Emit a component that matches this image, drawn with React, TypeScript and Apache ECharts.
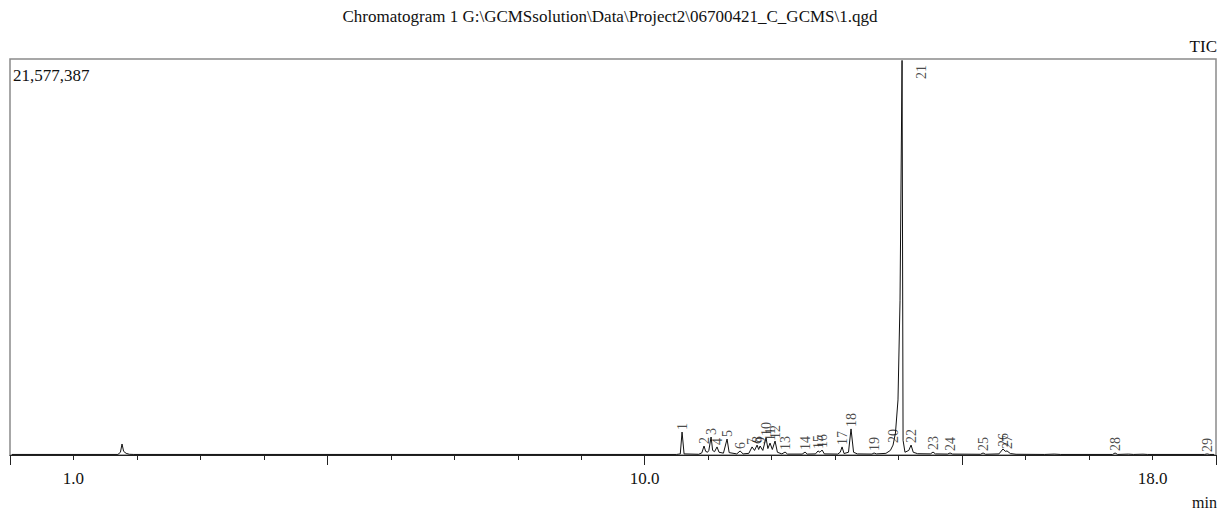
import React, { useEffect, useRef } from "react";
import * as echarts from "echarts";

const titleText = "Chromatogram 1 G:\\GCMSsolution\\Data\\Project2\\06700421_C_GCMS\\1.qgd";
const maxIntensity = 21577387;
const labeledTicks = [1, 10, 18];

// TIC trace: [retention time (min), intensity]
const trace: [number, number][] = [
  [0.03, 30000], [1.70, 30000], [1.74, 150000], [1.765, 600000], [1.79, 200000],
  [1.83, 90000], [1.88, 40000], [1.95, 30000],
  [10.50, 30000], [10.56, 60000], [10.588, 1250000], [10.62, 60000],
  [10.85, 40000], [10.90, 120000], [10.934, 490000], [10.96, 200000],
  [10.99, 150000], [11.01, 250000], [11.045, 980000], [11.07, 250000],
  [11.10, 180000], [11.139, 440000], [11.17, 150000], [11.24, 100000],
  [11.297, 870000], [11.33, 130000], [11.45, 60000], [11.502, 220000],
  [11.55, 60000], [11.64, 90000], [11.691, 440000], [11.73, 250000],
  [11.77, 540000], [11.795, 300000], [11.817, 490000], [11.86, 250000],
  [11.911, 930000], [11.94, 350000], [11.974, 650000], [12.01, 300000],
  [12.053, 760000], [12.09, 150000], [12.16, 60000], [12.211, 160000],
  [12.25, 50000], [12.48, 50000], [12.526, 160000], [12.56, 50000],
  [12.69, 60000], [12.73, 220000], [12.76, 150000], [12.794, 270000],
  [12.83, 60000], [13.04, 50000], [13.08, 150000], [13.109, 440000],
  [13.14, 80000], [13.21, 150000], [13.25, 1420000], [13.29, 150000],
  [13.35, 60000], [13.58, 50000], [13.613, 110000], [13.65, 60000],
  [13.80, 90000], [13.87, 250000], [13.912, 540000], [13.95, 1200000],
  [13.99, 3000000], [14.022, 8400000], [14.054, 21500000], [14.07, 800000],
  [14.10, 150000], [14.16, 250000], [14.196, 540000], [14.23, 150000],
  [14.30, 70000], [14.50, 60000], [14.542, 160000], [14.58, 60000],
  [14.77, 50000], [14.81, 110000], [14.85, 50000], [15.29, 40000],
  [15.33, 110000], [15.37, 40000], [15.58, 60000], [15.645, 330000],
  [15.68, 200000], [15.708, 220000], [15.76, 80000], [15.85, 40000],
  [16.30, 30000], [16.45, 50000], [16.55, 30000], [17.37, 30000],
  [17.41, 110000], [17.45, 30000], [17.62, 50000], [17.70, 30000],
  [17.85, 45000], [17.92, 30000], [18.82, 30000], [18.86, 60000],
  [18.90, 30000], [18.97, 30000],
];

// Peak labels
const peakNumbers = [
  "1", "2", "3", "4", "5", "6", "7", "8", "9", "10",
  "11", "12", "13", "14", "15", "16", "17", "18", "19", "20",
  "21", "22", "23", "24", "25", "26", "27", "28", "29",
];
const peakTimes = [
  10.588, 10.934, 11.045, 11.139, 11.297, 11.502, 11.691, 11.77, 11.817, 11.911,
  11.974, 12.053, 12.211, 12.526, 12.73, 12.794, 13.109, 13.25, 13.613, 13.912,
  14.054, 14.196, 14.542, 14.81, 15.33, 15.645, 15.708, 17.41, 18.86,
];
const peakHeights = [
  1250000, 490000, 980000, 440000, 870000, 220000, 440000, 540000, 490000, 930000,
  650000, 760000, 160000, 160000, 220000, 270000, 440000, 1420000, 110000, 540000,
  21577387, 540000, 160000, 110000, 110000, 330000, 220000, 110000, 60000,
];

const serif = "Liberation Serif, Times New Roman, serif";

export default function App() {
  const ref = useRef<HTMLDivElement>(null);
  useEffect(() => {
    if (!ref.current) return;
    const chart = echarts.init(ref.current, undefined, { renderer: "svg" });
    const labelData = peakNumbers.map((n, i) => {
      const item: any = { value: [peakTimes[i], peakHeights[i]], name: n };
      if (n === "21") {
        item.label = { position: [19, 20] };
      }
      return item;
    });
    chart.setOption({
      animation: false,
      backgroundColor: "#fff",
      grid: {
        left: 10,
        right: 4,
        top: 59,
        bottom: 57,
        show: true,
        borderColor: "#8a8a8a",
        borderWidth: 1.5,
        backgroundColor: "transparent",
      },
      xAxis: [
        {
          type: "value",
          min: 0,
          max: 19,
          interval: 1,
          axisLine: { show: true, lineStyle: { color: "#222", width: 1.2 } },
          axisTick: { show: true, length: 5, lineStyle: { color: "#222" } },
          splitLine: { show: false },
          axisLabel: {
            show: true,
            margin: 15,
            fontFamily: serif,
            fontSize: 17,
            color: "#111",
            formatter: (v: number) =>
              labeledTicks.indexOf(Math.round(v * 1000) / 1000) >= 0 ? v.toFixed(1) : "",
          },
        },
        {
          type: "value",
          min: 0,
          max: 19,
          interval: 5,
          position: "bottom",
          axisLine: { show: false },
          axisTick: { show: true, length: 10, lineStyle: { color: "#222" } },
          axisLabel: { show: false },
          splitLine: { show: false },
        },
      ],
      yAxis: {
        type: "value",
        min: 0,
        max: maxIntensity,
        axisLine: { show: false },
        axisTick: { show: false },
        axisLabel: { show: false },
        splitLine: { show: false },
      },
      series: [
        {
          type: "line",
          data: trace,
          symbol: "none",
          lineStyle: { color: "#111", width: 1 },
          silent: true,
        },
        {
          type: "scatter",
          data: labelData,
          symbolSize: 0,
          silent: true,
          label: {
            show: true,
            position: "top",
            distance: 2,
            rotate: 90,
            align: "left",
            verticalAlign: "middle",
            fontFamily: serif,
            fontSize: 14,
            color: "#1a1a1a",
            formatter: (p: any) => p.name,
          },
        },
      ],
      graphic: [
        {
          type: "text",
          left: "center",
          top: 8,
          style: { text: titleText, font: `17px ${serif}`, fill: "#111" },
        },
        {
          type: "text",
          right: 3,
          top: 38,
          style: { text: "TIC", font: `17px ${serif}`, fill: "#111" },
        },
        {
          type: "text",
          left: 13,
          top: 67,
          style: { text: "21,577,387", font: `17px ${serif}`, fill: "#111" },
        },
        {
          type: "text",
          right: 3,
          top: 494,
          style: { text: "min", font: `16px ${serif}`, fill: "#111" },
        },
      ],
    });
    return () => chart.dispose();
  }, []);
  return (
    <div
      ref={ref}
      style={{ position: "absolute", left: 0, top: 0, width: 1220, height: 512 }}
    />
  );
}
